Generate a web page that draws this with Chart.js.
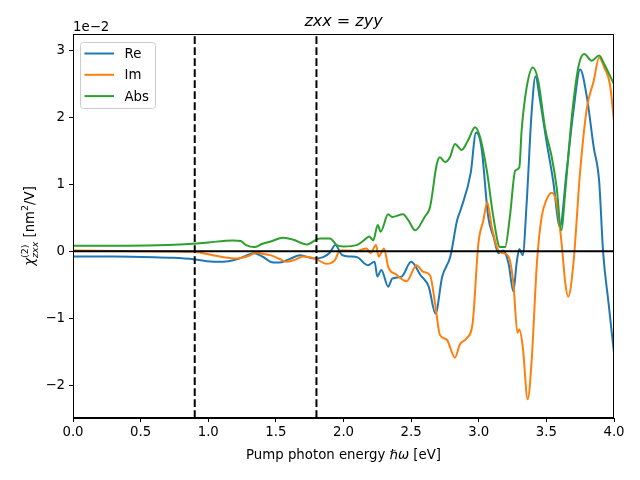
<!DOCTYPE html>
<html>
<head>
<meta charset="utf-8">
<script src="https://cdn.jsdelivr.net/npm/chart.js@4.4.0/dist/chart.umd.min.js"></script>
<style>
  html, body { margin: 0; padding: 0; background: #fff; }
  #wrap { width: 640px; height: 480px; }
</style>
</head>
<body>
<div id="wrap"><canvas id="chart" width="640" height="480"></canvas></div>
<script>
// values in units of 1e-2 nm^2/V
const reX = [0, 0.3, 0.6, 0.74, 0.89, 1.06, 1.15, 1.23, 1.34, 1.40, 1.48, 1.53, 1.60, 1.68, 1.78, 1.85, 1.90, 1.94, 1.99, 2.05, 2.10, 2.18, 2.23, 2.25, 2.28, 2.33, 2.36, 2.43, 2.50, 2.57, 2.63, 2.68, 2.73, 2.79, 2.84, 2.87, 2.94, 2.98, 3.02, 3.07, 3.11, 3.145, 3.18, 3.22, 3.256, 3.28, 3.30, 3.325, 3.354, 3.39, 3.42, 3.45, 3.50, 3.55, 3.60, 3.65, 3.70, 3.75, 3.80, 3.85, 3.89, 3.92, 3.96, 4.0];
const reY = [-0.08, -0.08, -0.09, -0.10, -0.12, -0.16, -0.15, -0.11, -0.03, -0.08, -0.17, -0.17, -0.12, -0.06, -0.11, -0.09, -0.02, 0.09, -0.06, -0.08, -0.09, -0.21, -0.16, -0.38, -0.28, -0.53, -0.41, -0.38, -0.16, -0.36, -0.53, -0.93, -0.38, -0.08, 0.46, 0.64, 1.16, 1.77, 1.55, 0.51, 0.21, -0.03, 0.01, -0.18, -0.60, -0.18, 0.03, -0.06, 0.71, 2.04, 2.61, 2.29, 1.65, 1.05, 0.36, 1.2, 2.09, 2.71, 2.29, 1.55, 1.05, -0.03, -0.78, -1.52];

const imX = [0, 0.5, 0.89, 1.035, 1.21, 1.30, 1.355, 1.40, 1.457, 1.52, 1.58, 1.64, 1.70, 1.79, 1.876, 1.937, 1.974, 2.02, 2.097, 2.17, 2.20, 2.24, 2.26, 2.30, 2.33, 2.39, 2.467, 2.54, 2.59, 2.64, 2.677, 2.713, 2.763, 2.824, 2.861, 2.911, 2.955, 2.997, 3.034, 3.063, 3.096, 3.145, 3.18, 3.22, 3.256, 3.286, 3.30, 3.325, 3.362, 3.39, 3.43, 3.465, 3.50, 3.54, 3.576, 3.613, 3.64, 3.662, 3.70, 3.75, 3.80, 3.85, 3.89, 3.93, 3.97, 4.0];
const imY = [0.01, 0.0, -0.01, -0.06, -0.11, -0.07, -0.02, -0.04, -0.06, -0.11, -0.16, -0.13, -0.08, -0.11, -0.19, -0.13, 0.01, 0.01, 0.0, 0.04, -0.03, 0.09, -0.08, 0.04, -0.23, -0.35, -0.45, -0.21, -0.31, -0.36, -0.78, -1.25, -1.32, -1.59, -1.39, -1.30, -1.07, 0.11, 0.46, 0.73, 0.36, 0.01, -0.03, -0.08, -0.48, -1.22, -1.17, -1.42, -2.21, -1.67, -0.18, 0.51, 0.76, 0.87, 0.71, 0.11, -0.48, -0.68, -0.18, 1.2, 2.14, 2.54, 2.89, 2.73, 2.49, 1.94];

const absX = [0, 0.4, 0.7, 0.887, 1.0, 1.18, 1.24, 1.28, 1.34, 1.40, 1.457, 1.555, 1.63, 1.728, 1.826, 1.90, 1.95, 2.0, 2.097, 2.15, 2.19, 2.22, 2.253, 2.275, 2.33, 2.36, 2.44, 2.48, 2.53, 2.60, 2.64, 2.69, 2.713, 2.75, 2.787, 2.824, 2.874, 2.92, 2.973, 3.01, 3.06, 3.108, 3.157, 3.195, 3.23, 3.27, 3.30, 3.317, 3.354, 3.40, 3.44, 3.49, 3.54, 3.576, 3.61, 3.64, 3.69, 3.74, 3.78, 3.835, 3.89, 3.93, 4.0];
const absY = [0.08, 0.08, 0.09, 0.11, 0.13, 0.16, 0.15, 0.09, 0.06, 0.11, 0.14, 0.20, 0.17, 0.10, 0.19, 0.19, 0.09, 0.07, 0.09, 0.16, 0.22, 0.16, 0.39, 0.29, 0.55, 0.51, 0.55, 0.46, 0.31, 0.51, 0.66, 1.30, 1.40, 1.33, 1.40, 1.60, 1.51, 1.65, 1.85, 1.70, 1.2, 0.51, 0.06, 0.06, 0.51, 1.2, 1.25, 1.80, 2.44, 2.74, 2.54, 1.84, 1.40, 0.95, 0.31, 0.9, 2.04, 2.78, 2.94, 2.84, 2.92, 2.78, 2.49];

const markerX = [0.9, 1.8];
const xTicks = [0, 0.5, 1, 1.5, 2, 2.5, 3, 3.5, 4];
const yTicks = [-2, -1, 0, 1, 2, 3];
const xRange = [0, 4];
const yRange = [-2.49, 3.24];

const FONT = "'DejaVu Sans', sans-serif";
const zip = (xs, ys) => xs.map((x, i) => ({ x, y: ys[i] }));

const series = [
  { label: 'Re', color: '#1f77b4', data: zip(reX, reY), order: 3 },
  { label: 'Im', color: '#ff7f0e', data: zip(imX, imY), order: 2 },
  { label: 'Abs', color: '#2ca02c', data: zip(absX, absY), order: 1 },
];

const datasets = series.map((s) => ({
  label: s.label,
  data: s.data,
  borderColor: s.color,
  borderWidth: 2,
  pointRadius: 0,
  cubicInterpolationMode: 'monotone',
  fill: false,
  order: s.order,
}));

datasets.push({
  label: 'zero',
  data: [{ x: xRange[0], y: 0 }, { x: xRange[1], y: 0 }],
  borderColor: '#000',
  borderWidth: 2,
  pointRadius: 0,
  order: 0,
});

markerX.forEach((mx) => {
  datasets.push({
    label: 'marker',
    data: [{ x: mx, y: yRange[0] }, { x: mx, y: yRange[1] }],
    borderColor: '#000',
    borderWidth: 2,
    borderDash: [7.7, 3.3],
    pointRadius: 0,
    order: 0,
  });
});

// draws a row of [text, font, dy, advance] pieces starting at x
const drawPieces = (ctx, pieces, x, y) => {
  pieces.forEach(([t, f, dy, adv]) => {
    ctx.font = f;
    ctx.fillText(t, x, y + (dy || 0));
    if (adv !== false) {
      x += ctx.measureText(t).width;
    }
  });
};

const piecesWidth = (ctx, pieces) => pieces.reduce((w, [t, f, , adv]) => {
  ctx.font = f;
  return adv === false ? w : w + ctx.measureText(t).width;
}, 0);

const decorations = {
  id: 'decorations',
  afterDraw(chart) {
    const { ctx, chartArea: a } = chart;
    const cx = (a.left + a.right) / 2;
    ctx.save();

    // frame
    ctx.strokeStyle = '#000';
    ctx.lineWidth = 1;
    ctx.strokeRect(a.left + 0.5, a.top + 0.5, a.right - a.left - 1, a.bottom - a.top - 1);

    ctx.fillStyle = '#000';
    ctx.textAlign = 'left';
    ctx.textBaseline = 'alphabetic';

    // offset text
    ctx.font = `13.3px ${FONT}`;
    ctx.fillText('1e\u22122', a.left, a.top - 3);

    // title
    const title = [
      ['zxx', `italic 16px ${FONT}`],
      [' = ', `16px ${FONT}`],
      ['zyy', `italic 16px ${FONT}`],
    ];
    drawPieces(ctx, title, cx - piecesWidth(ctx, title) / 2, 26);

    // x axis label
    const xLabel = [
      ['Pump photon energy ', `13.3px ${FONT}`],
      ['\u210f\u03c9', `italic 13.3px ${FONT}`],
      [' [eV]', `13.3px ${FONT}`],
    ];
    drawPieces(ctx, xLabel, cx - piecesWidth(ctx, xLabel) / 2, 459);

    // y axis label
    ctx.translate(31, (a.top + a.bottom) / 2);
    ctx.rotate(-Math.PI / 2);
    ctx.textBaseline = 'middle';
    const yLabel = [
      ['\u03c7', `italic 13.3px ${FONT}`],
      ['(2)', `9.5px ${FONT}`, -5, false],
      ['zxx', `italic 9.5px ${FONT}`, 5],
      [' [nm', `13.3px ${FONT}`],
      ['2', `9.5px ${FONT}`, -5],
      ['/V]', `13.3px ${FONT}`],
    ];
    drawPieces(ctx, yLabel, -piecesWidth(ctx, yLabel) / 2, 0);
    ctx.setTransform(1, 0, 0, 1, 0, 0);

    // legend
    const lx = a.left + 7.5;
    const ly = a.top + 8.5;
    ctx.beginPath();
    ctx.roundRect(lx, ly, 75, 66, 3);
    ctx.fillStyle = 'rgba(255,255,255,0.8)';
    ctx.fill();
    ctx.strokeStyle = '#cccccc';
    ctx.lineWidth = 1;
    ctx.stroke();
    ctx.font = `13.3px ${FONT}`;
    ctx.textBaseline = 'middle';
    series.forEach((s, i) => {
      const y = ly + 11 + i * 21.3;
      ctx.strokeStyle = s.color;
      ctx.lineWidth = 2;
      ctx.beginPath();
      ctx.moveTo(lx + 4, y);
      ctx.lineTo(lx + 33.5, y);
      ctx.stroke();
      ctx.fillStyle = '#000';
      ctx.fillText(s.label, lx + 44, y + 1);
    });

    ctx.restore();
  },
};

new Chart(document.getElementById('chart'), {
  type: 'line',
  data: { datasets },
  options: {
    responsive: false,
    animation: false,
    layout: { padding: { top: 34, right: 26, left: 0, bottom: 0 } },
    plugins: { legend: { display: false }, tooltip: { enabled: false } },
    scales: {
      x: {
        type: 'linear',
        min: xRange[0],
        max: xRange[1],
        afterBuildTicks: (scale) => { scale.ticks = xTicks.map((value) => ({ value })); },
        afterFit: (scale) => { scale.height = 62; },
        ticks: {
          color: '#000',
          font: { family: FONT, size: 13.3 },
          padding: 3,
          maxRotation: 0,
          callback: (v) => Number(v).toFixed(1),
        },
        grid: { drawOnChartArea: false, drawTicks: true, tickLength: 4, color: '#000', lineWidth: 1 },
        border: { color: '#000', width: 1 },
      },
      y: {
        type: 'linear',
        min: yRange[0],
        max: yRange[1],
        afterBuildTicks: (scale) => { scale.ticks = yTicks.map((value) => ({ value })); },
        afterFit: (scale) => { scale.width = 73; },
        ticks: {
          color: '#000',
          font: { family: FONT, size: 13.3 },
          padding: 4,
          callback: (v) => (v < 0 ? '\u2212' + Math.abs(v) : String(v)),
        },
        grid: { drawOnChartArea: false, drawTicks: true, tickLength: 4, color: '#000', lineWidth: 1 },
        border: { color: '#000', width: 1 },
      },
    },
  },
  plugins: [decorations],
});
</script>
</body>
</html>
